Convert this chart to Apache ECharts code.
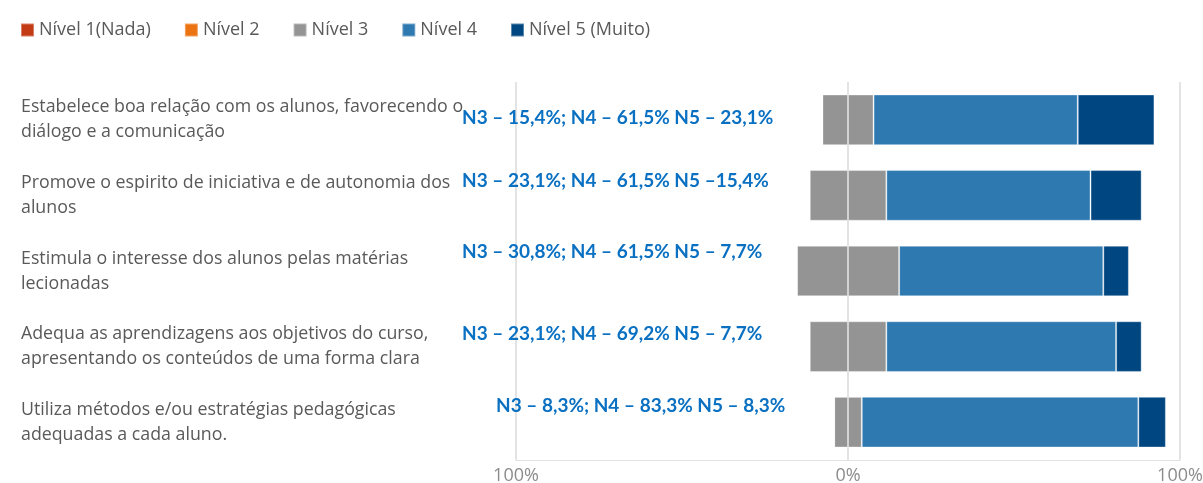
<!DOCTYPE html>
<html>
<head>
<meta charset="utf-8">
<script src="https://cdn.jsdelivr.net/npm/echarts@6/dist/echarts.min.js"></script>
<style>
  html, body { margin: 0; padding: 0; background: #fff; }
  #chart { width: 1203px; height: 483px; }
</style>
</head>
<body>
<div id="chart"></div>
<script>
// categorias (de cima para baixo)
var categories = [
	'Estabelece boa relação com os alunos, favorecendo o\ndiálogo e a comunicação',
	'Promove o espirito de iniciativa e de autonomia dos\nalunos',
	'Estimula o interesse dos alunos pelas matérias\nlecionadas',
	'Adequa as aprendizagens aos objetivos do curso,\napresentando os conteúdos de uma forma clara',
	'Utiliza métodos e/ou estratégias pedagógicas\nadequadas a cada aluno.'
];

var levelNames = ['Nível 1(Nada)', 'Nível 2', 'Nível 3', 'Nível 4', 'Nível 5 (Muito)'];

// percentagens por nível
var nivel1 = [0, 0, 0, 0, 0];
var nivel2 = [0, 0, 0, 0, 0];
var nivel3 = [15.4, 23.1, 30.8, 23.1, 8.3];
var nivel4 = [61.5, 61.5, 61.5, 69.2, 83.3];
var nivel5 = [23.1, 15.4, 7.7, 7.7, 8.3];

var annotations = [
	'N3 – 15,4%; N4 – 61,5% N5 – 23,1%',
	'N3 – 23,1%; N4 – 61,5% N5 –15,4%',
	'N3 – 30,8%; N4 – 61,5% N5 – 7,7%',
	'N3 – 23,1%; N4 – 69,2% N5 – 7,7%',
	'N3 – 8,3%; N4 – 83,3% N5 – 8,3%'
];

var xTicks = [-100, 0, 100];

var colors = ['#C23B14', '#EC7311', '#949494', '#2E79B0', '#004782'];
var annoPos = [[462, 118], [462, 181], [462, 252], [462, 334], [496, 406]];

function neg(arr, k) {
	return arr.map(function (v) { return -v * k; });
}
function half(arr) {
	return arr.map(function (v) { return v / 2; });
}

var chart = echarts.init(document.getElementById('chart'));

function bar(name, data, color) {
	return {
		type: 'bar',
		name: name,
		stack: 'total',
		barWidth: '67%',
		data: data,
		itemStyle: { color: color, borderColor: 'rgba(255,255,255,0.35)', borderWidth: 1 },
		emphasis: { disabled: true }
	};
}

var series = [
	bar(levelNames[2], neg(nivel3, 0.5), colors[2]),
	bar(levelNames[1], neg(nivel2, 1), colors[1]),
	bar(levelNames[0], neg(nivel1, 1), colors[0]),
	bar(levelNames[2], half(nivel3), colors[2]),
	bar(levelNames[3], nivel4, colors[3]),
	bar(levelNames[4], nivel5, colors[4])
];

var graphics = annotations.map(function (t, i) {
	return {
		type: 'text',
		x: annoPos[i][0],
		y: annoPos[i][1],
		z: 100,
		style: {
			text: t,
			fill: '#0A70C2',
			font: 'bold 19px Lato',
			verticalAlign: 'middle'
		}
	};
});

var option = {
	animation: false,
	color: colors,
	legend: {
		data: levelNames,
		left: 15,
		top: 16,
		icon: 'rect',
		itemWidth: 13,
		itemHeight: 13,
		itemGap: 33,
		textStyle: { color: '#595959', fontSize: 18, fontFamily: 'Open Sans' }
	},
	grid: { left: 516, right: 23, top: 82, bottom: 23, outerBoundsMode: 'none' },
	xAxis: {
		type: 'value',
		min: -100,
		max: 100,
		interval: 100,
		axisLine: { show: true, lineStyle: { color: '#e3e3e3' } },
		axisTick: { show: false },
		splitLine: { show: true, lineStyle: { color: '#e3e3e3', width: 2 } },
		axisLabel: {
			color: '#8c8c8c',
			fontSize: 18,
			fontFamily: 'Open Sans',
			margin: 7,
			formatter: function (v) { return Math.abs(v) + '%'; }
		}
	},
	yAxis: {
		type: 'category',
		data: categories,
		inverse: true,
		axisLine: { show: false },
		axisTick: { show: false },
		axisLabel: {
			align: 'left',
			margin: 495,
			color: '#595959',
			fontSize: 17.8,
			lineHeight: 25,
			fontFamily: 'Open Sans'
		}
	},
	series: series,
	graphic: graphics
};

chart.setOption(option);
</script>
</body>
</html>
